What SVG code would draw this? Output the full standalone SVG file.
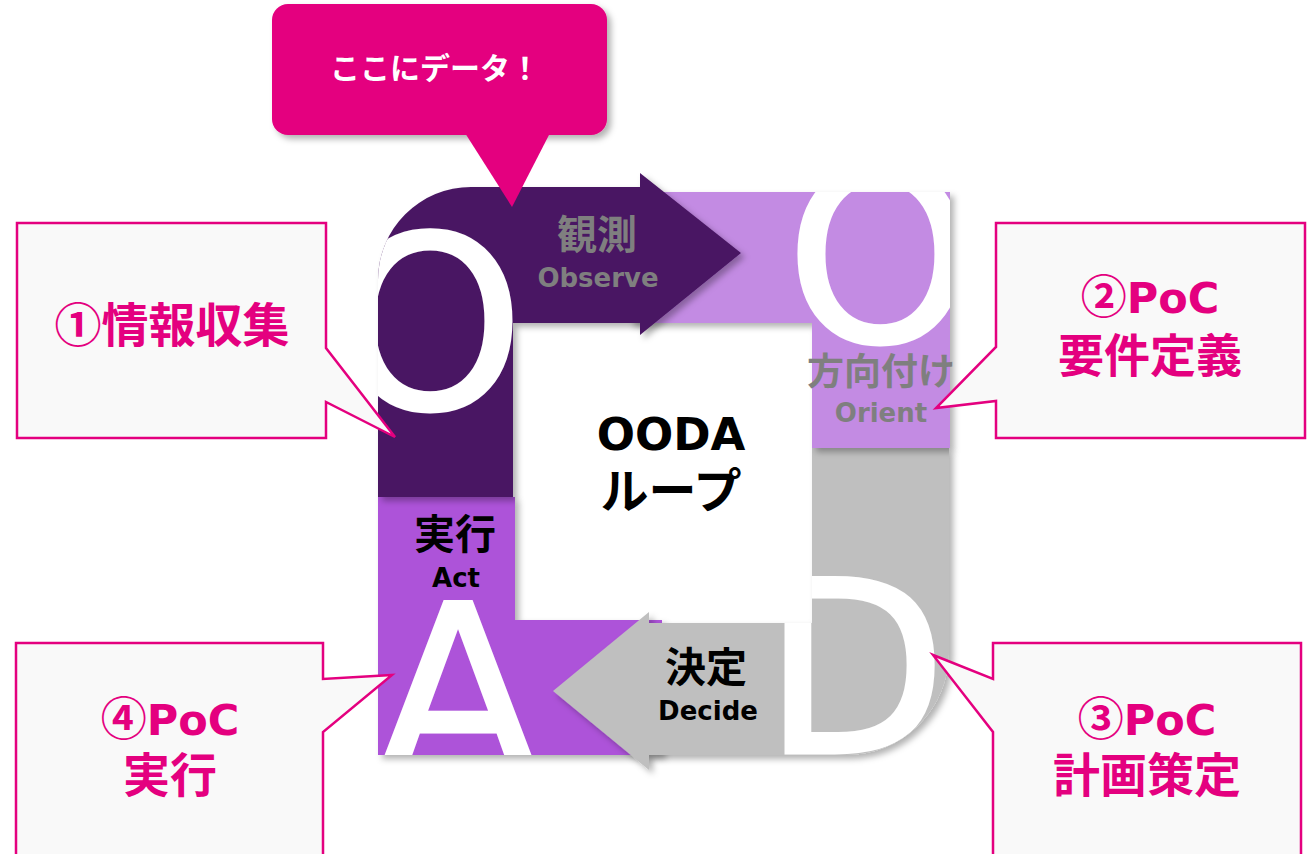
<svg xmlns="http://www.w3.org/2000/svg" xmlns:xlink="http://www.w3.org/1999/xlink" width="1307" height="854" viewBox="0 0 1307 854">
<style>
.big{font-family:"DejaVu Sans",sans-serif;font-size:240px;fill:#fff;stroke:#fff;stroke-width:3;text-anchor:middle}
.jp{font-family:"Noto Sans CJK JP",sans-serif;font-weight:700;text-anchor:middle}
.en{font-family:"DejaVu Sans",sans-serif;font-weight:700;text-anchor:middle}
.gray{fill:#7f7f7f}
.blk{fill:#000}
.mag{fill:#e4007f}
.callout{fill:#f9f9f9;stroke:#e4007f;stroke-width:2.5;stroke-linejoin:miter}
</style>
<defs>
<filter id="sh" x="-10%" y="-10%" width="130%" height="130%">
<feDropShadow dx="4" dy="4" stdDeviation="3" flood-color="#000" flood-opacity="0.3"/>
</filter>
<path id="p-act" d="M378 497 L515 497 L515 620 L662 620 L662 755 L378 755 Z"/>
<path id="p-decide" d="M812 448 L949 448 L949 652 A103 103 0 0 1 846 755 L649 755 L649 770 L553 691 L649 612 L649 623 L812 623 Z"/>
<path id="p-orient" d="M630 192 L950 192 L950 448 L812 448 L812 323 L630 323 Z"/>
<path id="p-observe" d="M378 497 L378 280 A93 93 0 0 1 471 187 L640 187 L640 173 L741 253 L640 335 L640 323 L513 323 L513 497 Z"/>
<clipPath id="c-act"><use xlink:href="#p-act"/></clipPath>
<clipPath id="c-decide"><use xlink:href="#p-decide"/></clipPath>
<clipPath id="c-orient"><use xlink:href="#p-orient"/></clipPath>
<clipPath id="c-observe"><use xlink:href="#p-observe"/></clipPath>
</defs>
<rect width="1307" height="854" fill="#fff"/>

<g id="node-act">
<use xlink:href="#p-act" fill="#ad53d9" filter="url(#sh)"/>
<text class="big" x="458" y="777" clip-path="url(#c-act)">A</text>
<text class="jp blk" x="455" y="549" font-size="41">実行</text>
<text class="en blk" x="456" y="587" font-size="26">Act</text>
</g>

<g id="node-decide">
<use xlink:href="#p-decide" fill="#bfbfbf" filter="url(#sh)"/>
<text class="big" x="855" y="753" clip-path="url(#c-decide)">D</text>
<text class="jp blk" x="706" y="682" font-size="41">決定</text>
<text class="en blk" x="708" y="720" font-size="26">Decide</text>
</g>

<g id="node-orient">
<use xlink:href="#p-orient" fill="#c38be3" filter="url(#sh)"/>
<text class="big" x="880" y="342" clip-path="url(#c-orient)">O</text>
<text class="jp gray" x="881" y="385" font-size="37">方向付け</text>
<text class="en gray" x="881" y="422" font-size="26">Orient</text>
</g>

<g id="node-observe">
<use xlink:href="#p-observe" fill="#491763" filter="url(#sh)"/>
<text class="big" x="430" y="409" clip-path="url(#c-observe)">O</text>
<text class="jp gray" x="597" y="249" font-size="40">観測</text>
<text class="en gray" x="598" y="287" font-size="26">Observe</text>
</g>

<g id="node-center">
<text class="en blk" x="671" y="450" font-size="45">OODA</text>
<text class="jp blk" x="671" y="508" font-size="48">ループ</text>
</g>

<g id="callout-1">
<path class="callout" d="M17 223 L326 223 L326 348 L395 437 L326 402 L326 438 L17 438 Z"/>
<text class="jp mag" x="172" y="342" font-size="47">①情報収集</text>
</g>

<g id="callout-2">
<path class="callout" d="M996 223 L1305 223 L1305 438 L996 438 L996 401 L936 408 L996 347 Z"/>
<text class="jp mag" x="1150" y="313" font-size="46">②<tspan font-family="DejaVu Sans" font-size="43">PoC</tspan></text>
<text class="jp mag" x="1150" y="372" font-size="46">要件定義</text>
</g>

<g id="callout-3">
<path class="callout" d="M993 643 L1301 643 L1301 870 L993 870 L993 732 L933 655 L993 679 Z"/>
<text class="jp mag" x="1147" y="735" font-size="46">③<tspan font-family="DejaVu Sans" font-size="43">PoC</tspan></text>
<text class="jp mag" x="1147" y="792" font-size="47">計画策定</text>
</g>

<g id="callout-4">
<path class="callout" d="M16 643 L323 643 L323 679 L392 675 L323 732 L323 870 L16 870 Z"/>
<text class="jp mag" x="170" y="735" font-size="46">④<tspan font-family="DejaVu Sans" font-size="43">PoC</tspan></text>
<text class="jp mag" x="170" y="792" font-size="47">実行</text>
</g>

<g id="callout-data">
<rect x="272" y="4" width="335" height="131" rx="16" fill="#e4007f" filter="url(#sh)"/>
<path d="M465 133 L550 133 L512 207 Z" fill="#e4007f"/>
<text class="jp" x="435" y="79" font-size="30" fill="#fff">ここにデータ！</text>
</g>
</svg>
